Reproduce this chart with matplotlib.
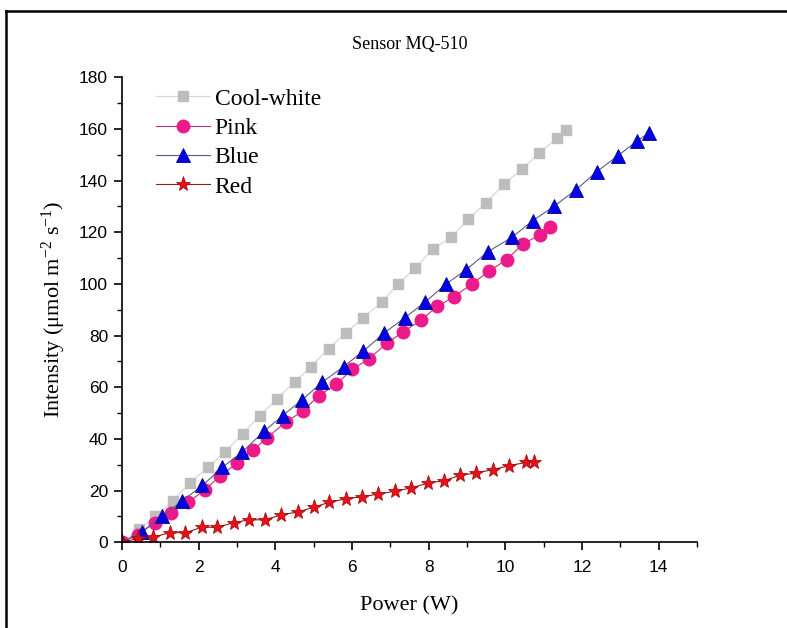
import matplotlib
matplotlib.use("Agg")
import matplotlib.pyplot as plt
from matplotlib.lines import Line2D
from matplotlib.ticker import MultipleLocator

plt.rcParams["mathtext.fontset"] = "custom"
plt.rcParams["mathtext.rm"] = "Liberation Serif"
plt.rcParams["mathtext.it"] = "Liberation Serif:italic"

# Power (W) and intensity (umol m-2 s-1) per light source
cool_x = [0, 0.45, 0.85, 1.32, 1.77, 2.24, 2.69, 3.15, 3.60, 4.04, 4.51, 4.93, 5.39,
          5.84, 6.30, 6.78, 7.21, 7.64, 8.11, 8.58, 9.04, 9.50, 9.97, 10.43, 10.89,
          11.35, 11.59]
cool_y = [0, 5, 10, 16, 23, 29, 35, 42, 49, 55.5, 62, 68, 75, 81, 87, 93, 100, 106,
          113.5, 118, 125, 131.5, 138.5, 144.5, 150.5, 156.5, 159.5]

pink_x = [0, 0.43, 0.85, 1.28, 1.73, 2.16, 2.55, 3.01, 3.41, 3.78, 4.28, 4.71, 5.14,
          5.58, 6.01, 6.45, 6.91, 7.34, 7.80, 8.23, 8.67, 9.13, 9.58, 10.04, 10.46,
          10.91, 11.16]
pink_y = [0, 3, 7.6, 11.5, 15.5, 20.3, 25.5, 30.7, 35.6, 40.4, 46.6, 50.7, 56.8, 61.1,
          66.9, 71.1, 77, 81.5, 86, 91.3, 95.1, 100, 105, 109.4, 115.5, 119, 122]

blue_x = [0, 0.51, 1.05, 1.57, 2.10, 2.62, 3.14, 3.71, 4.19, 4.69, 5.23, 5.78, 6.30,
          6.84, 7.39, 7.91, 8.46, 8.98, 9.55, 10.17, 10.72, 11.27, 11.85, 12.39, 12.93,
          13.45, 13.76]
blue_y = [0, 4, 10, 16, 22, 29, 35, 43, 49, 55, 62, 68, 74, 81, 87, 93, 100, 105.5,
          112.5, 118, 124.5, 130, 136.5, 143.5, 149.5, 155.5, 158.5]

red_x = [0, 0.43, 0.82, 1.24, 1.65, 2.08, 2.47, 2.93, 3.31, 3.73, 4.15, 4.58, 5.01,
         5.41, 5.84, 6.26, 6.69, 7.12, 7.54, 7.98, 8.39, 8.82, 9.23, 9.67, 10.11, 10.54,
         10.75]
red_y = [0, 1.5, 2, 3.7, 3.7, 5.8, 5.8, 7.6, 8.7, 8.7, 10.6, 11.7, 13.6, 15.5, 16.8,
         17.7, 18.6, 19.8, 21, 22.9, 23.8, 25.9, 26.8, 28.1, 29.7, 30.9, 30.9]

labels = ["Cool-white", "Pink", "Blue", "Red"]

fig = plt.figure(figsize=(7.87, 6.28), dpi=100)
ax = fig.add_axes([0.155, 0.1365, 0.7305, 0.7405])

ax.plot(cool_x, cool_y, color="#d8d8d8", lw=0.9, marker="s", ms=7.5,
        mfc="#bdbdbd", mec="#bdbdbd", label=labels[0])
ax.plot(pink_x, pink_y, color="#c0307a", lw=0.8, marker="o", ms=9,
        mfc="#ec1a8a", mec="#ec1a8a", label=labels[1])
ax.plot(blue_x, blue_y, color="#5a5a8a", lw=0.8, marker="^", ms=10,
        mfc="#0000e6", mec="#00008c", mew=0.6, label=labels[2])
ax.plot(red_x, red_y, color="#8a2020", lw=0.8, marker="*", ms=11,
        mfc="#e8101a", mec="#a00000", mew=0.5, label=labels[3])

ax.set_xlim(0, 15)
ax.set_ylim(0, 180)
ax.xaxis.set_major_locator(MultipleLocator(2))
ax.xaxis.set_minor_locator(MultipleLocator(1))
ax.yaxis.set_major_locator(MultipleLocator(20))
ax.yaxis.set_minor_locator(MultipleLocator(10))
ax.spines["top"].set_visible(False)
ax.spines["right"].set_visible(False)
for s in ("left", "bottom"):
    ax.spines[s].set_linewidth(1.2)
ax.tick_params(which="major", direction="out", length=6, width=1.2,
               labelsize=12.5, pad=4)
ax.tick_params(axis="x", which="major", pad=7)
ax.tick_params(which="minor", direction="out", length=3.5, width=1.0)
for lab in ax.get_xticklabels() + ax.get_yticklabels():
    lab.set_fontfamily("Liberation Sans")

ax.set_xlabel("Power (W)", family="Liberation Serif", fontsize=16, labelpad=15)
ax.set_ylabel(r"Intensity (μmol m$^{\mathregular{-2}}$ s$^{\mathregular{-1}}$)",
              family="Liberation Serif", fontsize=16, labelpad=8)
ax.set_title("Sensor MQ-510", family="Liberation Serif", fontsize=13, pad=20)

leg = ax.legend(loc="upper left", bbox_to_anchor=(0.03, 1.012), frameon=False,
                prop={"family": "Liberation Serif", "size": 17},
                handlelength=2.3, handletextpad=0.2, labelspacing=0.33,
                borderaxespad=0.3)

# outer frame around the figure
fig.add_artist(Line2D([0.0072, 0.0072], [0, 0.983], transform=fig.transFigure,
                      color="black", lw=1.8))
fig.add_artist(Line2D([0.0072, 1.0], [0.983, 0.983], transform=fig.transFigure,
                      color="black", lw=1.8))

fig.savefig("out.png", dpi=100)
